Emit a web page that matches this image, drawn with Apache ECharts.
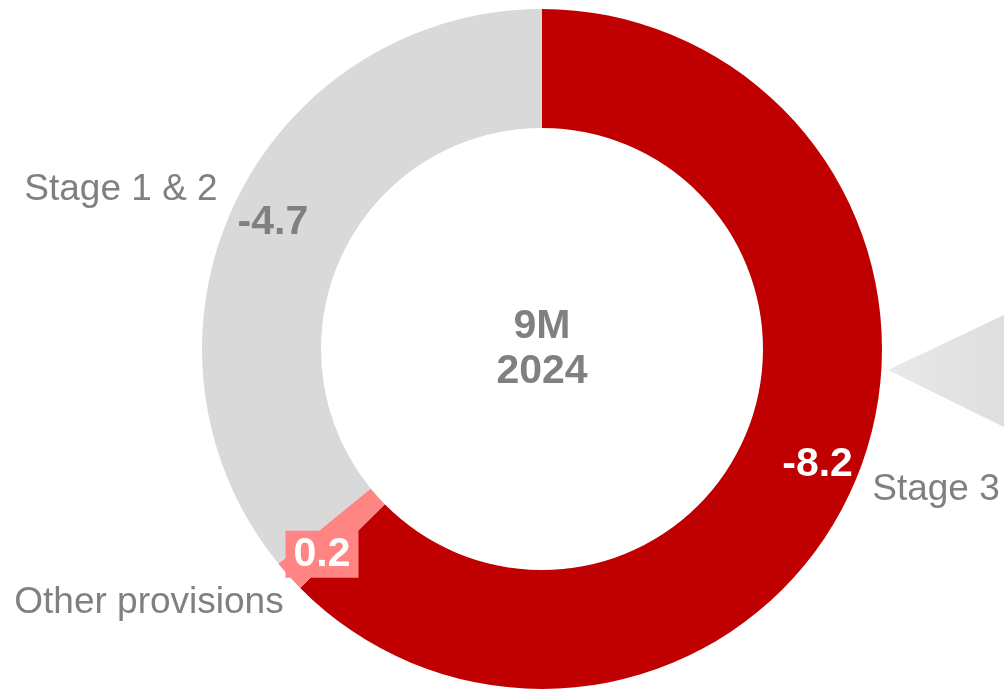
<!DOCTYPE html>
<html>
<head>
<meta charset="utf-8">
<script src="https://cdn.jsdelivr.net/npm/echarts@6/dist/echarts.min.js"></script>
<style>html,body{margin:0;padding:0;background:#fff}#c{width:1004px;height:690px}</style>
</head>
<body>
<div id="c"></div>
<script>
const categories = ['Stage 3', 'Other provisions', 'Stage 1 & 2'];
const values = [8.2, 0.2, 4.7];
const valueLabels = ['-8.2', '0.2', '-4.7'];
const centerTitle = ['9M', '2024'];

const colors = ['#C00000', '#FF8585', '#D9D9D9'];
const labelStyles = [
  { color: '#fff', offset: [14, 6] },
  { color: '#fff', offset: [-9, 16], backgroundColor: '#FF8585', padding: [3, 8, 3, 8] },
  { color: '#808080', offset: [-13, -5] }
];
const namePos = [[936, 490], [149, 603], [121, 190]];

const chart = echarts.init(document.getElementById('c'), null, { renderer: 'canvas' });
const FONT = 'Liberation Sans, Arial, sans-serif';

const data = categories.map((n, i) => ({
  name: n,
  value: values[i],
  itemStyle: { color: colors[i] },
  label: Object.assign({ formatter: valueLabels[i] }, labelStyles[i])
}));

chart.setOption({
  animation: false,
  series: [{
    type: 'pie',
    center: [542, 349],
    radius: [221, 340],
    startAngle: 90,
    clockwise: true,
    avoidLabelOverlap: false,
    silent: true,
    label: {
      show: true,
      position: 'inside',
      fontFamily: FONT,
      fontWeight: 'bold',
      fontSize: 41
    },
    labelLine: { show: false },
    itemStyle: { borderWidth: 0 },
    data: data
  }],
  graphic: [
    {
      type: 'polygon',
      shape: { points: [[888, 370], [1004, 315], [1004, 427]] },
      style: {
        fill: new echarts.graphic.LinearGradient(0, 0, 1, 0, [
          { offset: 0, color: '#E9E9E9' },
          { offset: 1, color: '#DEDEDE' }
        ])
      }
    },
    {
      type: 'text',
      x: 542, y: 349,
      style: {
        text: centerTitle.join('\n'),
        fill: '#808080',
        font: 'bold 41px ' + FONT,
        align: 'center',
        verticalAlign: 'middle',
        lineHeight: 45
      }
    }
  ].concat(categories.map((n, i) => ({
    type: 'text',
    x: namePos[i][0], y: namePos[i][1],
    style: {
      text: n,
      fill: '#808080',
      font: '37px ' + FONT,
      align: 'center',
      verticalAlign: 'middle'
    }
  })))
});
</script>
</body>
</html>
